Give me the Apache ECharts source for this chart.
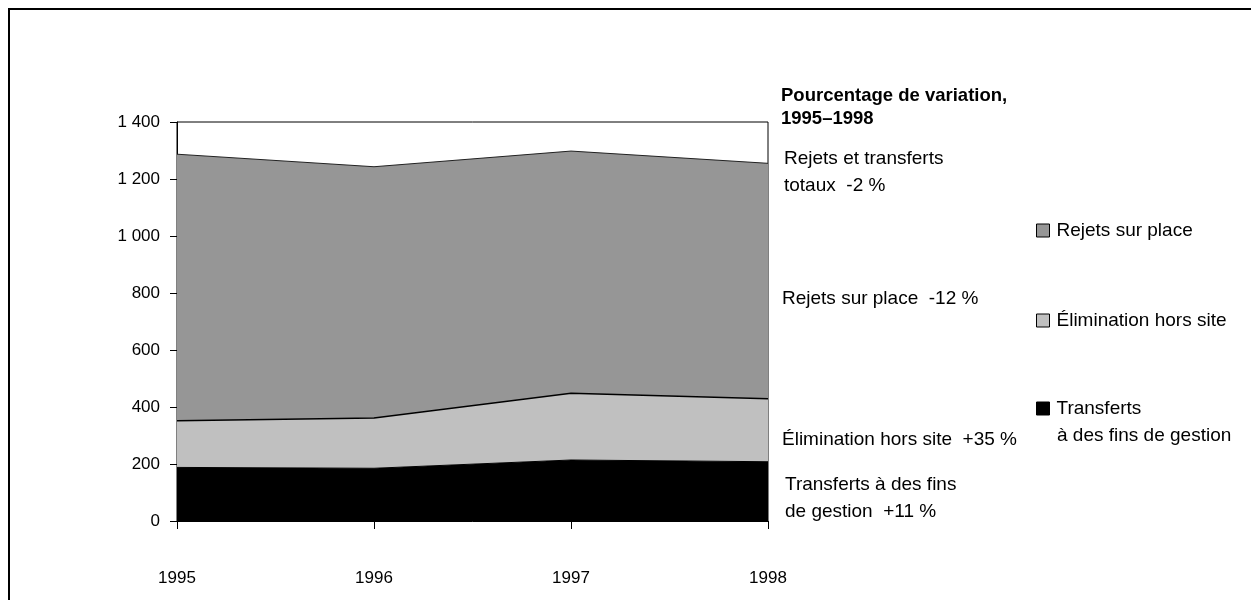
<!DOCTYPE html>
<html>
<head>
<meta charset="utf-8">
<title>Rejets et transferts, 1995–1998</title>
<script src="https://cdn.jsdelivr.net/npm/echarts@6/dist/echarts.min.js"></script>
<style>
  html, body { margin: 0; padding: 0; background: #fff; }
  #chart { width: 1251px; height: 600px; }
</style>
</head>
<body>
<div id="chart"></div>
<script>
// Years on the horizontal axis
const years = ['1995', '1996', '1997', '1998'];

// Stacked quantities, bottom to top
const transferts = [188, 185, 214, 208];
const elimination = [164, 176, 234, 221];
const rejetsSurPlace = [935, 882, 850, 826];

// Vertical axis range
const yTicks = { min: 0, max: 1400, interval: 200 };

// Side notes: percentage change 1995–1998
const noteTitle = ['Pourcentage de variation,', '1995–1998'];
const noteTotal = ['Rejets et transferts', 'totaux  -2 %'];
const noteOnSite = ['Rejets sur place  -12 %'];
const noteOffSite = ['Élimination hors site  +35 %'];
const noteTransfer = ['Transferts à des fins', 'de gestion  +11 %'];

const seriesNames = ['Transferts à des fins de gestion', 'Élimination hors site', 'Rejets sur place'];

const FONT = '"Liberation Sans", Arial, sans-serif';

function spaced(v) {
  return String(v).replace(/\B(?=(\d{3})+(?!\d))/g, ' ');
}

function textLines(lines, x, yTop, opts, step) {
  return lines.map((t, i) => ({
    type: 'text',
    left: x,
    top: yTop + i * (step || 27),
    style: Object.assign({
      text: t,
      fill: '#000',
      font: '19px ' + FONT
    }, opts || {})
  }));
}

const chart = echarts.init(document.getElementById('chart'), null, { renderer: 'canvas' });

const legendBase = {
  orient: 'vertical',
  left: 1031,
  icon: 'rect',
  itemWidth: 13,
  itemHeight: 13,
  selectedMode: false,
  textStyle: { fontFamily: FONT, fontSize: 19, color: '#000', padding: [0, 0, 0, 2] },
  itemStyle: { borderColor: '#000', borderWidth: 1 }
};

chart.setOption({
  animation: false,
  backgroundColor: '#fff',
  grid: {
    left: 177, right: 483, top: 122, bottom: 79,
    containLabel: false,
    outerBoundsMode: 'none',
    show: true,
    borderColor: '#000',
    borderWidth: 1,
    backgroundColor: 'transparent'
  },
  legend: [
    Object.assign({}, legendBase, { top: 216, data: ['Rejets sur place'] }),
    Object.assign({}, legendBase, { top: 306, data: ['Élimination hors site'] }),
    Object.assign({}, legendBase, {
      top: 394,
      data: ['Transferts à des fins de gestion'],
      formatter: () => 'Transferts'
    })
  ],
  xAxis: {
    type: 'category',
    data: years,
    boundaryGap: false,
    axisLine: { lineStyle: { color: '#000', width: 1 } },
    axisTick: { show: true, length: 8, lineStyle: { color: '#000' }, alignWithLabel: true },
    axisLabel: { color: '#000', fontFamily: FONT, fontSize: 17, margin: 49 },
    splitLine: { show: false }
  },
  yAxis: {
    type: 'value',
    min: yTicks.min,
    max: yTicks.max,
    interval: yTicks.interval,
    axisLine: { show: true, lineStyle: { color: '#000', width: 1 } },
    axisTick: { show: true, length: 7, lineStyle: { color: '#000' } },
    axisLabel: { color: '#000', fontFamily: FONT, fontSize: 17, margin: 17, formatter: spaced },
    splitLine: { show: false }
  },
  series: [
    {
      name: seriesNames[0], type: 'line', stack: 'total', data: transferts,
      symbol: 'none', color: '#000',
      lineStyle: { color: '#000', width: 1 },
      areaStyle: { color: '#000', opacity: 1 }
    },
    {
      name: seriesNames[1], type: 'line', stack: 'total', data: elimination,
      symbol: 'none', color: '#c0c0c0',
      lineStyle: { color: '#000', width: 1.5 },
      areaStyle: { color: '#c0c0c0', opacity: 1 }
    },
    {
      name: seriesNames[2], type: 'line', stack: 'total', data: rejetsSurPlace,
      symbol: 'none', color: '#969696',
      lineStyle: { color: '#222', width: 1 },
      areaStyle: { color: '#969696', opacity: 1 }
    }
  ],
  graphic: [
    {
      type: 'rect',
      shape: { x: 9, y: 9, width: 1400, height: 800 },
      style: { fill: 'none', stroke: '#000', lineWidth: 2 },
      silent: true
    },
    ...textLines(noteTitle, 781, 86, { font: 'bold 18.5px ' + FONT }, 23),
    ...textLines(noteTotal, 784, 149),
    ...textLines(noteOnSite, 782, 289),
    ...textLines(noteOffSite, 782, 430),
    ...textLines(noteTransfer, 785, 475),
    ...textLines(['à des fins de gestion'], 1057, 426)
  ]
});
</script>
</body>
</html>
